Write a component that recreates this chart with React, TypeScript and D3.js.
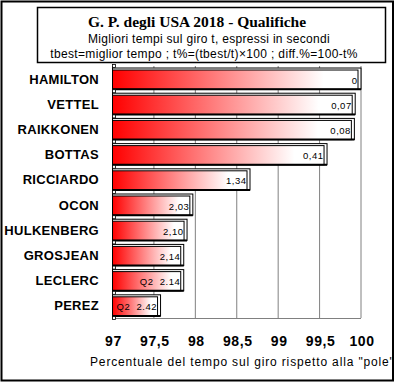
import React from "react";
import * as d3 from "d3";

const drivers = ["HAMILTON", "VETTEL", "RAIKKONEN", "BOTTAS", "RICCIARDO", "OCON", "HULKENBERG", "GROSJEAN", "LECLERC", "PEREZ"];
const diffs = [0, 0.07, 0.08, 0.41, 1.34, 2.03, 2.10, 2.14, 2.14, 2.42];
const valueLabels = ["0", "0,07", "0,08", "0,41", "1,34", "2,03", "2,10", "2,14", "Q2  2.14", "Q2  2.42"];
const ticks = [97, 97.5, 98, 98.5, 99, 99.5, 100];
const tickLabels = ["97", "97,5", "98", "98,5", "99", "99,5", "100"];

const W = 395, H = 383;
const SANS = "'Liberation Sans', Arial, sans-serif";

export default function App() {
  const x = d3.scaleLinear().domain([97, 100]).range([112.5, 361]);
  const y = d3.scaleBand<string>().domain(drivers).range([66, 318]).paddingInner(0.12).paddingOuter(0.06);
  const bw = y.bandwidth();
  const step = y.step();
  const boundaries = d3.range(drivers.length + 1).map((i) => 66 + i * step);

  return (
    <svg width={W} height={H} style={{ position: "absolute", left: 0, top: 0, background: "#fff" }}>
      <defs>
        <linearGradient id="barGrad" x1="0" y1="0" x2="1" y2="0">
          <stop offset="0%" stopColor="#ff0000" />
          <stop offset="86%" stopColor="#ffffff" />
          <stop offset="100%" stopColor="#ffffff" />
        </linearGradient>
        <clipPath id="outerClip">
          <rect x={2} y={2} width={390} height={378} />
        </clipPath>
      </defs>
      <rect x={0} y={0} width={W} height={H} fill="#fff" />
      {/* outer border */}
      <rect x={1.5} y={1.5} width={391.5} height={379} fill="none" stroke="#000" strokeWidth={2} />
      {/* title box */}
      <rect x={37.5} y={7.5} width={348} height={55} fill="#fff" stroke="#000" strokeWidth={1.5} />
      <text x={197} y={27} textAnchor="middle" fontFamily="'Liberation Serif', 'Times New Roman', serif" fontWeight="bold" fontSize={15.5}>
        G. P. degli USA 2018 - Qualifiche
      </text>
      <text x={209} y={43} textAnchor="middle" fontFamily={SANS} fontSize={12} letterSpacing={0.3}>
        Migliori tempi sul giro t, espressi in secondi
      </text>
      <text x={204} y={57.5} textAnchor="middle" fontFamily={SANS} fontSize={12} letterSpacing={0.35}>
        tbest=miglior tempo ; t%=(tbest/t)×100 ; diff.%=100-t%
      </text>

      {/* gridlines */}
      {ticks.slice(1).map((t) => (
        <line key={t} x1={x(t)} x2={x(t)} y1={66} y2={318} stroke="#808080" strokeWidth={1} />
      ))}
      <line x1={112.5} x2={361} y1={318.5} y2={318.5} stroke="#808080" strokeWidth={1} />

      {/* bars */}
      {drivers.map((d, i) => {
        const v = 100 - diffs[i];
        const x0 = x(97);
        const xv = x(v);
        const yt = y(d)!;
        const w = xv - x0;
        return (
          <g key={d}>
            <rect x={x0} y={yt + 0.5} width={w} height={bw - 1} fill="#fff" stroke="#000" strokeWidth={1} />
            <rect x={x0} y={yt + 2.5} width={Math.max(w - 3, 1)} height={bw - 3} fill="url(#barGrad)" stroke="#000" strokeWidth={1} />
            <line x1={x0} x2={xv} y1={yt + bw - 0.5} y2={yt + bw - 0.5} stroke="#000" strokeWidth={2} />
            <text
              x={xv - 3.5}
              y={yt + bw / 2 + 5}
              textAnchor="end"
              fontFamily={SANS}
              fontSize={9.5}
              letterSpacing={0.5}
              style={{ whiteSpace: "pre" }}
            >
              {valueLabels[i]}
            </text>
          </g>
        );
      })}

      {/* left axis */}
      <line x1={112.5} x2={112.5} y1={66} y2={319} stroke="#000" strokeWidth={1} />
      {boundaries.map((b, i) => (
        <rect key={i} x={112.5} y={b - 1.5} width={3} height={3} fill="#fff" stroke="#000" strokeWidth={0.8} />
      ))}

      {/* category labels */}
      {drivers.map((d) => (
        <text key={d} x={99} y={y(d)! + bw / 2 + 5} textAnchor="end" fontFamily={SANS} fontWeight="bold" fontSize={13} letterSpacing={0.3}>
          {d}
        </text>
      ))}

      {/* tick labels */}
      {ticks.map((t, i) => (
        <text key={t} x={x(t) + 1} y={346} textAnchor="middle" fontFamily={SANS} fontWeight="bold" fontSize={14} letterSpacing={0.6}>
          {tickLabels[i]}
        </text>
      ))}

      <g clipPath="url(#outerClip)">
        <text x={90} y={366} fontFamily={SANS} fontSize={12} letterSpacing={0.85}>
          Percentuale del tempo sul giro rispetto alla "pole"
        </text>
      </g>
    </svg>
  );
}
